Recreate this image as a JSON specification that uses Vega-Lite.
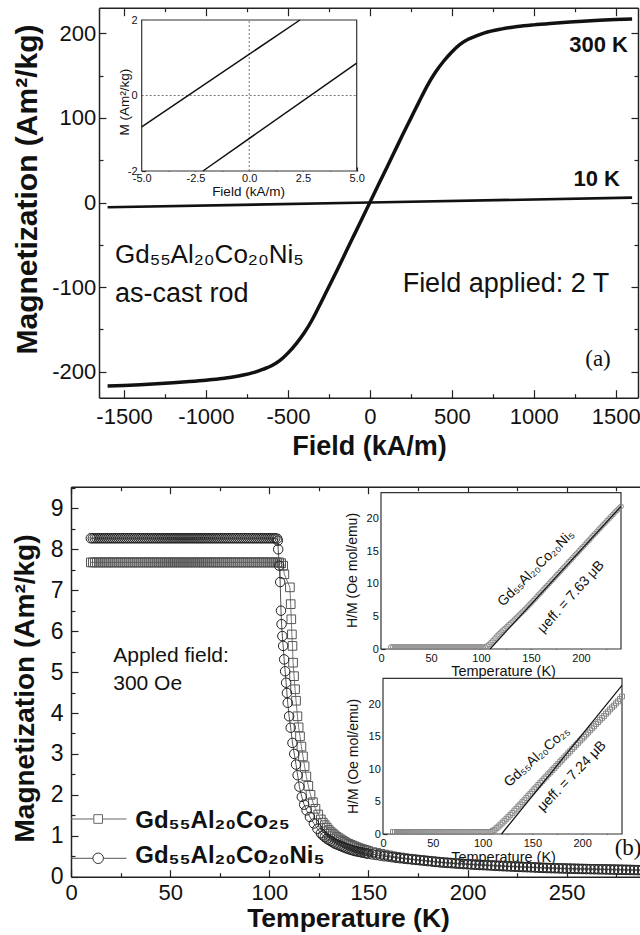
{
"$schema": "https://vega.github.io/schema/vega-lite/v6.json",
"width": 640, "height": 935, "autosize": {"type": "none"}, "padding": 0, "background": "white",
"config": {"view": {"stroke": null}, "font": "Liberation Sans",
 "axis": {"grid": false, "labelFlush": false, "labelOverlap": false, "domainColor": "#222", "tickColor": "#222", "labelColor": "#111", "titleColor": "#111", "domainWidth": 1.5, "tickWidth": 1.2, "zindex": 1, "labelFont": "Liberation Sans", "titleFont": "Liberation Sans"},
 "text": {"color": "#111"}},
"data": {"values": [{}]},
"datasets": {
"a300": [{"h":-1600,"m":-217},{"h":-1500,"m":-216.3},{"h":-1400,"m":-215.4},{"h":-1300,"m":-214.3},{"h":-1200,"m":-213},{"h":-1100,"m":-211.6},{"h":-1000,"m":-210},{"h":-900,"m":-208},{"h":-800,"m":-205},{"h":-700,"m":-200.5},{"h":-650,"m":-197},{"h":-600,"m":-193},{"h":-550,"m":-187},{"h":-500,"m":-178},{"h":-450,"m":-167},{"h":-400,"m":-154},{"h":-350,"m":-138},{"h":-300,"m":-119},{"h":-250,"m":-99.5},{"h":-200,"m":-80},{"h":-150,"m":-60},{"h":-100,"m":-40},{"h":-50,"m":-20},{"h":0,"m":0},{"h":50,"m":20},{"h":100,"m":40},{"h":150,"m":60},{"h":200,"m":80},{"h":250,"m":99.5},{"h":300,"m":119},{"h":350,"m":138},{"h":400,"m":154},{"h":450,"m":167},{"h":500,"m":178},{"h":550,"m":187},{"h":600,"m":193},{"h":650,"m":197},{"h":700,"m":200.5},{"h":800,"m":205},{"h":900,"m":208},{"h":1000,"m":210},{"h":1100,"m":211.6},{"h":1200,"m":213},{"h":1300,"m":214.3},{"h":1400,"m":215.4},{"h":1500,"m":216.3},{"h":1600,"m":217}],
"a10": [{"h":-1600,"m":-5.6},{"h":0,"m":0},{"h":1600,"m":5.8}],
"ains": [{"s":"u","h":-5,"m":-0.83},{"s":"u","h":2.36,"m":2},{"s":"l","h":-2.15,"m":-2},{"s":"l","h":5,"m":0.86}],
"bsq": [{"t":10,"m":7.68},{"t":11,"m":7.68},{"t":12,"m":7.68},{"t":13,"m":7.68},{"t":14,"m":7.68},{"t":15,"m":7.68},{"t":16,"m":7.68},{"t":17,"m":7.68},{"t":18,"m":7.68},{"t":19,"m":7.68},{"t":20,"m":7.68},{"t":21,"m":7.68},{"t":22,"m":7.68},{"t":23,"m":7.68},{"t":24,"m":7.68},{"t":25,"m":7.68},{"t":26,"m":7.68},{"t":27,"m":7.68},{"t":28,"m":7.68},{"t":29,"m":7.68},{"t":30,"m":7.68},{"t":31,"m":7.68},{"t":32,"m":7.68},{"t":33,"m":7.68},{"t":34,"m":7.68},{"t":35,"m":7.68},{"t":36,"m":7.68},{"t":37,"m":7.68},{"t":38,"m":7.68},{"t":39,"m":7.68},{"t":40,"m":7.68},{"t":41,"m":7.68},{"t":42,"m":7.68},{"t":43,"m":7.68},{"t":44,"m":7.68},{"t":45,"m":7.68},{"t":46,"m":7.68},{"t":47,"m":7.68},{"t":48,"m":7.68},{"t":49,"m":7.68},{"t":50,"m":7.68},{"t":51,"m":7.68},{"t":52,"m":7.68},{"t":53,"m":7.68},{"t":54,"m":7.68},{"t":55,"m":7.68},{"t":56,"m":7.68},{"t":57,"m":7.68},{"t":58,"m":7.68},{"t":59,"m":7.68},{"t":60,"m":7.68},{"t":61,"m":7.68},{"t":62,"m":7.68},{"t":63,"m":7.68},{"t":64,"m":7.68},{"t":65,"m":7.68},{"t":66,"m":7.68},{"t":67,"m":7.68},{"t":68,"m":7.68},{"t":69,"m":7.68},{"t":70,"m":7.68},{"t":71,"m":7.68},{"t":72,"m":7.68},{"t":73,"m":7.68},{"t":74,"m":7.68},{"t":75,"m":7.68},{"t":76,"m":7.68},{"t":77,"m":7.68},{"t":78,"m":7.68},{"t":79,"m":7.68},{"t":80,"m":7.68},{"t":81,"m":7.68},{"t":82,"m":7.68},{"t":83,"m":7.68},{"t":84,"m":7.68},{"t":85,"m":7.68},{"t":86,"m":7.68},{"t":87,"m":7.68},{"t":88,"m":7.68},{"t":89,"m":7.68},{"t":90,"m":7.68},{"t":91,"m":7.68},{"t":92,"m":7.68},{"t":93,"m":7.68},{"t":94,"m":7.68},{"t":95,"m":7.68},{"t":96,"m":7.68},{"t":97,"m":7.68},{"t":98,"m":7.68},{"t":99,"m":7.68},{"t":100,"m":7.68},{"t":101,"m":7.68},{"t":102,"m":7.68},{"t":103,"m":7.68},{"t":104,"m":7.68},{"t":105,"m":7.68},{"t":106,"m":7.66},{"t":107,"m":7.6},{"t":107.6,"m":7.39},{"t":110.4,"m":7.07},{"t":110.8,"m":6.66},{"t":111.1,"m":6.29},{"t":111.4,"m":5.92},{"t":111.7,"m":5.64},{"t":112,"m":5.23},{"t":112.5,"m":4.9},{"t":113,"m":4.58},{"t":113.5,"m":4.3},{"t":114.2,"m":3.92},{"t":114.8,"m":3.65},{"t":115.5,"m":3.43},{"t":116.2,"m":3.18},{"t":117,"m":2.94},{"t":117.8,"m":2.7},{"t":118.7,"m":2.45},{"t":119.7,"m":2.22},{"t":120.8,"m":2.0},{"t":122,"m":1.82},{"t":123.3,"m":1.66},{"t":124.7,"m":1.52},{"t":126,"m":1.4},{"t":127,"m":1.32},{"t":128,"m":1.26},{"t":129,"m":1.2},{"t":130,"m":1.14},{"t":131,"m":1.09},{"t":132,"m":1.05},{"t":133,"m":1.01},{"t":134,"m":0.97},{"t":135,"m":0.94},{"t":136,"m":0.91},{"t":137,"m":0.88},{"t":138,"m":0.85},{"t":139,"m":0.82},{"t":140,"m":0.8},{"t":141,"m":0.78},{"t":142,"m":0.76},{"t":143,"m":0.74},{"t":144,"m":0.72},{"t":145,"m":0.7},{"t":146,"m":0.685},{"t":147,"m":0.67},{"t":148,"m":0.655},{"t":149,"m":0.64},{"t":150,"m":0.625},{"t":152,"m":0.6},{"t":154,"m":0.58},{"t":156,"m":0.56},{"t":158,"m":0.54},{"t":160,"m":0.52},{"t":162,"m":0.5},{"t":164,"m":0.485},{"t":166,"m":0.47},{"t":168,"m":0.455},{"t":170,"m":0.44},{"t":172,"m":0.43},{"t":174,"m":0.42},{"t":176,"m":0.41},{"t":178,"m":0.4},{"t":180,"m":0.39},{"t":182,"m":0.38},{"t":184,"m":0.37},{"t":186,"m":0.36},{"t":188,"m":0.35},{"t":190,"m":0.345},{"t":192,"m":0.34},{"t":194,"m":0.33},{"t":196,"m":0.325},{"t":198,"m":0.32},{"t":200,"m":0.31},{"t":202,"m":0.305},{"t":204,"m":0.3},{"t":206,"m":0.295},{"t":208,"m":0.29},{"t":210,"m":0.285},{"t":212,"m":0.28},{"t":214,"m":0.275},{"t":216,"m":0.27},{"t":218,"m":0.265},{"t":220,"m":0.26},{"t":222,"m":0.256},{"t":224,"m":0.252},{"t":226,"m":0.248},{"t":228,"m":0.244},{"t":230,"m":0.24},{"t":232,"m":0.236},{"t":234,"m":0.232},{"t":236,"m":0.228},{"t":238,"m":0.224},{"t":240,"m":0.22},{"t":242,"m":0.217},{"t":244,"m":0.214},{"t":246,"m":0.211},{"t":248,"m":0.208},{"t":250,"m":0.205},{"t":252,"m":0.202},{"t":254,"m":0.2},{"t":256,"m":0.198},{"t":258,"m":0.196},{"t":260,"m":0.194},{"t":262,"m":0.192},{"t":264,"m":0.19},{"t":266,"m":0.188},{"t":268,"m":0.186},{"t":270,"m":0.184},{"t":272,"m":0.182},{"t":274,"m":0.18},{"t":276,"m":0.178},{"t":278,"m":0.176},{"t":280,"m":0.174},{"t":282,"m":0.172},{"t":284,"m":0.17},{"t":286,"m":0.168},{"t":288,"m":0.166},{"t":290,"m":0.164},{"t":292,"m":0.162}],
"bci": [{"t":10,"m":8.27},{"t":11,"m":8.27},{"t":12,"m":8.27},{"t":13,"m":8.27},{"t":14,"m":8.27},{"t":15,"m":8.27},{"t":16,"m":8.27},{"t":17,"m":8.27},{"t":18,"m":8.27},{"t":19,"m":8.27},{"t":20,"m":8.27},{"t":21,"m":8.27},{"t":22,"m":8.27},{"t":23,"m":8.27},{"t":24,"m":8.27},{"t":25,"m":8.27},{"t":26,"m":8.27},{"t":27,"m":8.27},{"t":28,"m":8.27},{"t":29,"m":8.27},{"t":30,"m":8.27},{"t":31,"m":8.27},{"t":32,"m":8.27},{"t":33,"m":8.27},{"t":34,"m":8.27},{"t":35,"m":8.27},{"t":36,"m":8.27},{"t":37,"m":8.27},{"t":38,"m":8.27},{"t":39,"m":8.27},{"t":40,"m":8.27},{"t":41,"m":8.27},{"t":42,"m":8.27},{"t":43,"m":8.27},{"t":44,"m":8.27},{"t":45,"m":8.27},{"t":46,"m":8.27},{"t":47,"m":8.27},{"t":48,"m":8.27},{"t":49,"m":8.27},{"t":50,"m":8.27},{"t":51,"m":8.27},{"t":52,"m":8.27},{"t":53,"m":8.27},{"t":54,"m":8.27},{"t":55,"m":8.27},{"t":56,"m":8.27},{"t":57,"m":8.27},{"t":58,"m":8.27},{"t":59,"m":8.27},{"t":60,"m":8.27},{"t":61,"m":8.27},{"t":62,"m":8.27},{"t":63,"m":8.27},{"t":64,"m":8.27},{"t":65,"m":8.27},{"t":66,"m":8.27},{"t":67,"m":8.27},{"t":68,"m":8.27},{"t":69,"m":8.27},{"t":70,"m":8.27},{"t":71,"m":8.27},{"t":72,"m":8.27},{"t":73,"m":8.27},{"t":74,"m":8.27},{"t":75,"m":8.27},{"t":76,"m":8.27},{"t":77,"m":8.27},{"t":78,"m":8.27},{"t":79,"m":8.27},{"t":80,"m":8.27},{"t":81,"m":8.27},{"t":82,"m":8.27},{"t":83,"m":8.27},{"t":84,"m":8.27},{"t":85,"m":8.27},{"t":86,"m":8.27},{"t":87,"m":8.27},{"t":88,"m":8.27},{"t":89,"m":8.27},{"t":90,"m":8.27},{"t":91,"m":8.27},{"t":92,"m":8.27},{"t":93,"m":8.27},{"t":94,"m":8.27},{"t":95,"m":8.27},{"t":96,"m":8.27},{"t":97,"m":8.27},{"t":98,"m":8.27},{"t":99,"m":8.27},{"t":100,"m":8.27},{"t":101,"m":8.27},{"t":102,"m":8.27},{"t":103,"m":8.27},{"t":104,"m":8.26},{"t":104.3,"m":8.21},{"t":104.5,"m":8.0},{"t":105,"m":7.6},{"t":105.5,"m":7.2},{"t":105.9,"m":6.5},{"t":106.2,"m":6.17},{"t":106.6,"m":5.88},{"t":107,"m":5.64},{"t":107.5,"m":5.31},{"t":108,"m":5.02},{"t":108.5,"m":4.74},{"t":108.9,"m":4.49},{"t":109.3,"m":4.25},{"t":110,"m":3.92},{"t":110.8,"m":3.64},{"t":111.7,"m":3.27},{"t":112.6,"m":3.0},{"t":113.5,"m":2.74},{"t":114.3,"m":2.48},{"t":115.2,"m":2.2},{"t":116.4,"m":1.95},{"t":117.6,"m":1.76},{"t":118.8,"m":1.62},{"t":120.5,"m":1.46},{"t":122.5,"m":1.3},{"t":124.3,"m":1.17},{"t":126,"m":1.06},{"t":127,"m":1.01},{"t":128,"m":0.97},{"t":129,"m":0.93},{"t":130,"m":0.9},{"t":131,"m":0.87},{"t":132,"m":0.84},{"t":133,"m":0.81},{"t":134,"m":0.79},{"t":135,"m":0.77},{"t":136,"m":0.75},{"t":137,"m":0.73},{"t":138,"m":0.71},{"t":139,"m":0.69},{"t":140,"m":0.675},{"t":141,"m":0.66},{"t":142,"m":0.645},{"t":143,"m":0.63},{"t":144,"m":0.62},{"t":145,"m":0.61},{"t":146,"m":0.6},{"t":147,"m":0.59},{"t":148,"m":0.58},{"t":149,"m":0.57},{"t":150,"m":0.56},{"t":152,"m":0.545},{"t":154,"m":0.53},{"t":156,"m":0.515},{"t":158,"m":0.5},{"t":160,"m":0.49},{"t":162,"m":0.475},{"t":164,"m":0.46},{"t":166,"m":0.45},{"t":168,"m":0.44},{"t":170,"m":0.43},{"t":172,"m":0.42},{"t":174,"m":0.41},{"t":176,"m":0.4},{"t":178,"m":0.39},{"t":180,"m":0.38},{"t":182,"m":0.37},{"t":184,"m":0.36},{"t":186,"m":0.35},{"t":188,"m":0.342},{"t":190,"m":0.335},{"t":192,"m":0.328},{"t":194,"m":0.32},{"t":196,"m":0.314},{"t":198,"m":0.308},{"t":200,"m":0.302},{"t":202,"m":0.296},{"t":204,"m":0.29},{"t":206,"m":0.285},{"t":208,"m":0.28},{"t":210,"m":0.275},{"t":212,"m":0.27},{"t":214,"m":0.265},{"t":216,"m":0.26},{"t":218,"m":0.255},{"t":220,"m":0.25},{"t":222,"m":0.246},{"t":224,"m":0.242},{"t":226,"m":0.238},{"t":228,"m":0.234},{"t":230,"m":0.23},{"t":232,"m":0.226},{"t":234,"m":0.222},{"t":236,"m":0.218},{"t":238,"m":0.214},{"t":240,"m":0.21},{"t":242,"m":0.207},{"t":244,"m":0.204},{"t":246,"m":0.201},{"t":248,"m":0.198},{"t":250,"m":0.195},{"t":252,"m":0.192},{"t":254,"m":0.19},{"t":256,"m":0.188},{"t":258,"m":0.186},{"t":260,"m":0.184},{"t":262,"m":0.182},{"t":264,"m":0.18},{"t":266,"m":0.178},{"t":268,"m":0.176},{"t":270,"m":0.174},{"t":272,"m":0.172},{"t":274,"m":0.17},{"t":276,"m":0.168},{"t":278,"m":0.166},{"t":280,"m":0.164},{"t":282,"m":0.162},{"t":284,"m":0.16},{"t":286,"m":0.158},{"t":288,"m":0.156},{"t":290,"m":0.154},{"t":292,"m":0.152}],
"cni": [{"t":10,"v":0.3},{"t":12,"v":0.3},{"t":14,"v":0.3},{"t":16,"v":0.3},{"t":18,"v":0.3},{"t":20,"v":0.3},{"t":22,"v":0.3},{"t":24,"v":0.3},{"t":26,"v":0.3},{"t":28,"v":0.3},{"t":30,"v":0.3},{"t":32,"v":0.3},{"t":34,"v":0.3},{"t":36,"v":0.3},{"t":38,"v":0.3},{"t":40,"v":0.3},{"t":42,"v":0.3},{"t":44,"v":0.3},{"t":46,"v":0.3},{"t":48,"v":0.3},{"t":50,"v":0.3},{"t":52,"v":0.3},{"t":54,"v":0.3},{"t":56,"v":0.3},{"t":58,"v":0.3},{"t":60,"v":0.3},{"t":62,"v":0.3},{"t":64,"v":0.3},{"t":66,"v":0.3},{"t":68,"v":0.3},{"t":70,"v":0.3},{"t":72,"v":0.3},{"t":74,"v":0.3},{"t":76,"v":0.3},{"t":78,"v":0.3},{"t":80,"v":0.3},{"t":82,"v":0.3},{"t":84,"v":0.3},{"t":86,"v":0.3},{"t":88,"v":0.3},{"t":90,"v":0.3},{"t":92,"v":0.3},{"t":94,"v":0.3},{"t":96,"v":0.3},{"t":98,"v":0.3},{"t":100,"v":0.3},{"t":102,"v":0.3},{"t":104,"v":0.32},{"t":106,"v":0.45},{"t":108,"v":0.7},{"t":110,"v":1.0},{"t":112,"v":1.3},{"t":114,"v":1.65},{"t":116,"v":2.0},{"t":118,"v":2.3},{"t":120,"v":2.6},{"t":122,"v":2.9},{"t":124,"v":3.15},{"t":126,"v":3.45},{"t":128,"v":3.75},{"t":130,"v":4.0},{"t":132,"v":4.3},{"t":134,"v":4.6},{"t":136,"v":4.9},{"t":138,"v":5.2},{"t":140,"v":5.5},{"t":142,"v":5.8},{"t":144,"v":6.1},{"t":146,"v":6.4},{"t":148,"v":6.75},{"t":150,"v":7.05},{"t":152,"v":7.4},{"t":154,"v":7.7},{"t":156,"v":8.05},{"t":158,"v":8.4},{"t":160,"v":8.7},{"t":162,"v":9.05},{"t":164,"v":9.4},{"t":166,"v":9.7},{"t":168,"v":10.05},{"t":170,"v":10.4},{"t":172,"v":10.7},{"t":174,"v":11.05},{"t":176,"v":11.4},{"t":178,"v":11.7},{"t":180,"v":12.05},{"t":182,"v":12.4},{"t":184,"v":12.7},{"t":186,"v":13.05},{"t":188,"v":13.4},{"t":190,"v":13.7},{"t":192,"v":14.05},{"t":194,"v":14.4},{"t":196,"v":14.7},{"t":198,"v":15.05},{"t":200,"v":15.4},{"t":202,"v":15.7},{"t":204,"v":16.05},{"t":206,"v":16.4},{"t":208,"v":16.7},{"t":210,"v":17.05},{"t":212,"v":17.4},{"t":214,"v":17.7},{"t":216,"v":18.05},{"t":218,"v":18.4},{"t":220,"v":18.7},{"t":222,"v":19.05},{"t":224,"v":19.35},{"t":226,"v":19.7},{"t":228,"v":20.0},{"t":230,"v":20.35},{"t":232,"v":20.65},{"t":234,"v":21.0},{"t":236,"v":21.3},{"t":238,"v":21.6},{"t":240,"v":21.9}],
"cco": [{"t":10,"v":0.3},{"t":12,"v":0.3},{"t":14,"v":0.3},{"t":16,"v":0.3},{"t":18,"v":0.3},{"t":20,"v":0.3},{"t":22,"v":0.3},{"t":24,"v":0.3},{"t":26,"v":0.3},{"t":28,"v":0.3},{"t":30,"v":0.3},{"t":32,"v":0.3},{"t":34,"v":0.3},{"t":36,"v":0.3},{"t":38,"v":0.3},{"t":40,"v":0.3},{"t":42,"v":0.3},{"t":44,"v":0.3},{"t":46,"v":0.3},{"t":48,"v":0.3},{"t":50,"v":0.3},{"t":52,"v":0.3},{"t":54,"v":0.3},{"t":56,"v":0.3},{"t":58,"v":0.3},{"t":60,"v":0.3},{"t":62,"v":0.3},{"t":64,"v":0.3},{"t":66,"v":0.3},{"t":68,"v":0.3},{"t":70,"v":0.3},{"t":72,"v":0.3},{"t":74,"v":0.3},{"t":76,"v":0.3},{"t":78,"v":0.3},{"t":80,"v":0.3},{"t":82,"v":0.3},{"t":84,"v":0.3},{"t":86,"v":0.3},{"t":88,"v":0.3},{"t":90,"v":0.3},{"t":92,"v":0.3},{"t":94,"v":0.3},{"t":96,"v":0.3},{"t":98,"v":0.3},{"t":100,"v":0.3},{"t":102,"v":0.3},{"t":104,"v":0.3},{"t":106,"v":0.3},{"t":108,"v":0.32},{"t":110,"v":0.45},{"t":112,"v":0.65},{"t":114,"v":0.9},{"t":116,"v":1.15},{"t":118,"v":1.45},{"t":120,"v":1.75},{"t":122,"v":2.05},{"t":124,"v":2.35},{"t":126,"v":2.65},{"t":128,"v":2.95},{"t":130,"v":3.25},{"t":132,"v":3.6},{"t":134,"v":3.9},{"t":136,"v":4.25},{"t":138,"v":4.55},{"t":140,"v":4.9},{"t":142,"v":5.2},{"t":144,"v":5.55},{"t":146,"v":5.9},{"t":148,"v":6.2},{"t":150,"v":6.55},{"t":152,"v":6.9},{"t":154,"v":7.2},{"t":156,"v":7.55},{"t":158,"v":7.9},{"t":160,"v":8.2},{"t":162,"v":8.55},{"t":164,"v":8.85},{"t":166,"v":9.2},{"t":168,"v":9.5},{"t":170,"v":9.85},{"t":172,"v":10.15},{"t":174,"v":10.5},{"t":176,"v":10.8},{"t":178,"v":11.15},{"t":180,"v":11.45},{"t":182,"v":11.8},{"t":184,"v":12.1},{"t":186,"v":12.45},{"t":188,"v":12.75},{"t":190,"v":13.1},{"t":192,"v":13.4},{"t":194,"v":13.75},{"t":196,"v":14.05},{"t":198,"v":14.4},{"t":200,"v":14.7},{"t":202,"v":15.0},{"t":204,"v":15.35},{"t":206,"v":15.65},{"t":208,"v":16.0},{"t":210,"v":16.3},{"t":212,"v":16.6},{"t":214,"v":16.95},{"t":216,"v":17.25},{"t":218,"v":17.6},{"t":220,"v":17.9},{"t":222,"v":18.2},{"t":224,"v":18.55},{"t":226,"v":18.85},{"t":228,"v":19.2},{"t":230,"v":19.5},{"t":232,"v":19.8},{"t":234,"v":20.15},{"t":236,"v":20.45},{"t":238,"v":20.8},{"t":240,"v":21.2}],
"fitn": [{"t":109,"v":0},{"t":240,"v":21.9}],
"fitc": [{"t":119,"v":0},{"t":240,"v":22.9}]
},
"layer": [
{"layer": [
 {"data": {"name": "a300"}, "mark": {"type": "line", "stroke": "#111", "strokeWidth": 3.5, "interpolate": "monotone"},
  "encoding": {
   "x": {"field": "h", "type": "quantitative", "scale": {"domain": [-1652.5, 1636], "range": [99, 638], "nice": false, "zero": false},
    "axis": {"orient": "bottom", "offset": -537.3, "values": [-1500,-1000,-500,0,500,1000,1500], "format": "d", "labelExpr": "replace(datum.label,'−','-')", "tickSize": -8, "labelPadding": 16.7, "labelFontSize": 22, "title": "Field (kA/m)", "titleFontSize": 27, "titleFontWeight": "bold", "titleX": 369, "titleY": 49, "titleBaseline": "middle", "titleAlign": "center", "titleAngle": 0}},
   "y": {"field": "m", "type": "quantitative", "scale": {"domain": [-230.7, 230.3], "range": [397.7, 7.7], "nice": false, "zero": false},
    "axis": {"orient": "left", "offset": -99, "values": [-200,-100,0,100,200], "format": "d", "labelExpr": "replace(datum.label,'−','-')", "tickSize": -7, "labelPadding": 10.3, "labelFontSize": 22, "title": "Magnetization (Am²/kg)", "titleFontSize": 30, "titleFontWeight": "bold", "titleX": -72, "titleY": 189, "titleAngle": -90, "titleBaseline": "middle", "titleAlign": "center"}}}},
 {"data": {"name": "a10"}, "mark": {"type": "line", "stroke": "#111", "strokeWidth": 2.6},
  "encoding": {
   "x": {"field": "h", "type": "quantitative", "axis": {"orient": "top", "offset": -7.7, "values": [-1500,-1000,-500,0,500,1000,1500], "tickSize": -8, "labels": false, "title": null}},
   "y": {"field": "m", "type": "quantitative", "axis": {"orient": "right", "offset": -2, "values": [-200,-100,0,100,200], "tickSize": -7, "labels": false, "title": null}}}},
 {"mark": {"type": "text", "text": "300 K", "fontSize": 22, "fontWeight": "bold", "align": "right", "baseline": "middle"},
  "encoding": {
   "x": {"datum": 1575, "type": "quantitative", "axis": {"orient": "bottom", "offset": -537.3, "values": [-1250,-750,-250,250,750,1250], "tickSize": -4, "labels": false, "domain": false, "title": null}},
   "y": {"datum": 186.3, "type": "quantitative", "axis": {"orient": "left", "offset": -99, "values": [-150,-50,50,150], "tickSize": -4, "labels": false, "domain": false, "title": null}}}},
 {"mark": {"type": "text", "text": "10 K", "fontSize": 22, "fontWeight": "bold", "align": "right", "baseline": "middle"},
  "encoding": {
   "x": {"datum": 1526, "type": "quantitative", "axis": {"orient": "top", "offset": -7.7, "values": [-1250,-750,-250,250,750,1250], "tickSize": -4, "labels": false, "domain": false, "title": null}},
   "y": {"datum": 27.9, "type": "quantitative", "axis": {"orient": "right", "offset": -2, "values": [-150,-50,50,150], "tickSize": -4, "labels": false, "domain": false, "title": null}}}},
 {"mark": {"type": "text", "text": "Gd₅₅Al₂₀Co₂₀Ni₅", "fontSize": 26, "align": "left", "baseline": "alphabetic"},
  "encoding": {"x": {"datum": -1555, "type": "quantitative", "axis": null}, "y": {"datum": -71.8, "type": "quantitative", "axis": null}}},
 {"mark": {"type": "text", "text": "as-cast rod", "fontSize": 27, "align": "left", "baseline": "alphabetic"},
  "encoding": {"x": {"datum": -1555, "type": "quantitative", "axis": null}, "y": {"datum": -117.2, "type": "quantitative", "axis": null}}},
 {"mark": {"type": "text", "text": "Field applied: 2 T", "fontSize": 27, "align": "left", "baseline": "alphabetic"},
  "encoding": {"x": {"datum": 200, "type": "quantitative", "axis": null}, "y": {"datum": -105.3, "type": "quantitative", "axis": null}}},
 {"mark": {"type": "text", "text": "(a)", "font": "Liberation Serif", "fontSize": 23, "align": "center", "baseline": "middle"},
  "encoding": {"x": {"datum": 1392, "type": "quantitative", "axis": null}, "y": {"datum": -184.9, "type": "quantitative", "axis": null}}}
 ],
 "resolve": {"axis": {"x": "independent", "y": "independent"}}},
{"layer": [
 {"mark": {"type": "rect", "fill": "white", "stroke": "#333", "strokeWidth": 1.2},
  "encoding": {
   "x": {"datum": -5, "type": "quantitative", "scale": {"domain": [-5, 5], "range": [141.7, 356.7], "nice": false, "zero": false},
    "axis": {"orient": "bottom", "offset": -764, "values": [-5,-2.5,0,2.5,5], "format": ".1f", "labelExpr": "replace(datum.label,'−','-')", "tickSize": -4, "labelPadding": 5, "labelFontSize": 11, "domain": false, "title": "Field (kA/m)", "titleFontSize": 13.5, "titleFontWeight": "normal", "titleX": 248, "titleY": 20.7, "titleBaseline": "middle", "titleAlign": "center", "titleAngle": 0}},
   "x2": {"datum": 5},
   "y": {"datum": -2, "type": "quantitative", "scale": {"domain": [-2, 2], "range": [171, 20], "nice": false, "zero": false},
    "axis": {"orient": "left", "offset": -141.7, "values": [-2,0,2], "format": "d", "labelExpr": "replace(datum.label,'−','-')", "tickSize": -4, "labelPadding": 8.7, "labelFontSize": 11, "domain": false, "title": "M (Am²/kg)", "titleFontSize": 13.5, "titleFontWeight": "normal", "titleX": -17.7, "titleY": 101.7, "titleAngle": -90, "titleBaseline": "middle", "titleAlign": "center"}},
   "y2": {"datum": 2}}},
 {"mark": {"type": "rule", "stroke": "#555", "strokeWidth": 0.8, "strokeDash": [2, 2]},
  "encoding": {
   "x": {"datum": 0, "type": "quantitative", "axis": {"orient": "bottom", "offset": -764, "values": [-3.75,-1.25,1.25,3.75], "tickSize": -2.5, "labels": false, "domain": false, "title": null}},
   "y": {"datum": -2, "type": "quantitative", "axis": {"orient": "left", "offset": -141.7, "values": [-1,1], "tickSize": -2.5, "labels": false, "domain": false, "title": null}},
   "y2": {"datum": 2}}},
 {"mark": {"type": "rule", "stroke": "#555", "strokeWidth": 0.8, "strokeDash": [2, 2]},
  "encoding": {"x": {"datum": -5, "type": "quantitative", "axis": null}, "x2": {"datum": 5}, "y": {"datum": 0, "type": "quantitative", "axis": null}}},
 {"data": {"name": "ains"}, "mark": {"type": "line", "stroke": "#111", "strokeWidth": 1.5},
  "encoding": {"x": {"field": "h", "type": "quantitative", "axis": null}, "y": {"field": "m", "type": "quantitative", "axis": null}, "detail": {"field": "s"}}}
 ],
 "resolve": {"axis": {"x": "independent", "y": "independent"}}},
{"layer": [
 {"data": {"name": "bsq"}, "mark": {"type": "line", "stroke": "#777", "strokeWidth": 1},
  "encoding": {
   "x": {"field": "t", "type": "quantitative", "scale": {"domain": [0, 290], "range": [71, 646], "nice": false, "zero": false},
    "axis": {"orient": "bottom", "offset": -58.3, "values": [0,50,100,150,200,250], "format": "d", "tickSize": -7, "labelPadding": 12.5, "labelFontSize": 22, "title": "Temperature (K)", "titleFontSize": 26.5, "titleFontWeight": "bold", "titleX": 348, "titleY": 42, "titleBaseline": "middle", "titleAlign": "center", "titleAngle": 0}},
   "y": {"field": "m", "type": "quantitative", "scale": {"domain": [0, 9.53], "range": [876.7, 486.7], "nice": false, "zero": false},
    "axis": {"orient": "left", "offset": -71, "values": [0,1,2,3,4,5,6,7,8,9], "format": "d", "tickSize": -7, "labelPadding": 15, "labelFontSize": 23, "title": "Magnetization (Am²/kg)", "titleFontSize": 28, "titleFontWeight": "bold", "titleX": -46, "titleY": 688, "titleAngle": -90, "titleBaseline": "middle", "titleAlign": "center"}}}},
 {"data": {"name": "bci"}, "mark": {"type": "line", "stroke": "#555", "strokeWidth": 1},
  "encoding": {
   "x": {"field": "t", "type": "quantitative", "axis": {"orient": "bottom", "offset": -58.3, "values": [25,75,125,175,225,275], "tickSize": -4, "labels": false, "domain": false, "title": null}},
   "y": {"field": "m", "type": "quantitative", "axis": {"orient": "left", "offset": -71, "values": [0.5,1.5,2.5,3.5,4.5,5.5,6.5,7.5,8.5,9.5], "tickSize": -4, "labels": false, "domain": false, "title": null}}}},
 {"data": {"name": "bsq"}, "mark": {"type": "point", "shape": "square", "size": 75, "filled": false, "stroke": "#555", "strokeWidth": 1, "opacity": 1},
  "encoding": {
   "x": {"field": "t", "type": "quantitative", "axis": {"orient": "top", "offset": -486.7, "values": [0,50,100,150,200,250], "tickSize": -7, "labels": false, "title": null}},
   "y": {"field": "m", "type": "quantitative", "axis": null}}},
 {"data": {"name": "bci"}, "mark": {"type": "point", "shape": "circle", "size": 90, "filled": false, "stroke": "#222", "strokeWidth": 1, "opacity": 1},
  "encoding": {
   "x": {"field": "t", "type": "quantitative", "axis": {"orient": "top", "offset": -486.7, "values": [25,75,125,175,225,275], "tickSize": -4, "labels": false, "domain": false, "title": null}},
   "y": {"field": "m", "type": "quantitative", "axis": null}}},
 {"mark": {"type": "rule", "stroke": "#666", "strokeWidth": 1},
  "encoding": {"x": {"datum": 0, "type": "quantitative", "axis": null}, "x2": {"datum": 28}, "y": {"datum": 1.41, "type": "quantitative", "axis": null}}},
 {"mark": {"type": "rule", "stroke": "#555", "strokeWidth": 1},
  "encoding": {"x": {"datum": 0, "type": "quantitative", "axis": null}, "x2": {"datum": 28}, "y": {"datum": 0.45, "type": "quantitative", "axis": null}}},
 {"mark": {"type": "point", "shape": "square", "size": 75, "fill": "white", "stroke": "#666", "strokeWidth": 1, "opacity": 1},
  "encoding": {"x": {"datum": 13.7, "type": "quantitative", "axis": null}, "y": {"datum": 1.41, "type": "quantitative", "axis": null}}},
 {"mark": {"type": "point", "shape": "circle", "size": 110, "fill": "white", "stroke": "#333", "strokeWidth": 1, "opacity": 1},
  "encoding": {"x": {"datum": 13.7, "type": "quantitative", "axis": null}, "y": {"datum": 0.45, "type": "quantitative", "axis": null}}},
 {"mark": {"type": "text", "text": "Gd₅₅Al₂₀Co₂₅", "fontSize": 24, "fontWeight": "bold", "align": "left", "baseline": "alphabetic"},
  "encoding": {"x": {"datum": 32.4, "type": "quantitative", "axis": null}, "y": {"datum": 1.18, "type": "quantitative", "axis": null}}},
 {"mark": {"type": "text", "text": "Gd₅₅Al₂₀Co₂₀Ni₅", "fontSize": 24, "fontWeight": "bold", "align": "left", "baseline": "alphabetic"},
  "encoding": {"x": {"datum": 32.4, "type": "quantitative", "axis": null}, "y": {"datum": 0.33, "type": "quantitative", "axis": null}}},
 {"mark": {"type": "text", "text": ["Appled field:", "300 Oe"], "fontSize": 21, "align": "left", "baseline": "alphabetic", "lineHeight": 28},
  "encoding": {"x": {"datum": 21.3, "type": "quantitative", "axis": null}, "y": {"datum": 5.25, "type": "quantitative", "axis": null}}}
 ],
 "resolve": {"axis": {"x": "independent", "y": "independent"}}},
{"layer": [
 {"mark": {"type": "rect", "fill": "white", "stroke": "#333", "strokeWidth": 1.2},
  "encoding": {
   "x": {"datum": 0, "type": "quantitative", "scale": {"domain": [0, 240], "range": [381, 621], "nice": false, "zero": false},
    "axis": {"orient": "bottom", "offset": -286, "values": [0,50,100,150,200], "format": "d", "tickSize": -4, "labelPadding": 7, "labelFontSize": 11, "domain": false, "title": "Temperature (K)", "titleFontSize": 14.5, "titleFontWeight": "normal", "titleX": 503, "titleY": 22.5, "titleBaseline": "middle", "titleAlign": "center", "titleAngle": 0}},
   "x2": {"datum": 240},
   "y": {"datum": 0, "type": "quantitative", "scale": {"domain": [0, 24], "range": [649, 492.7], "nice": false, "zero": false},
    "axis": {"orient": "left", "offset": -381, "values": [0,5,10,15,20], "format": "d", "tickSize": -4, "labelPadding": 6.7, "labelFontSize": 11, "domain": false, "title": "H/M (Oe mol/emu)", "titleFontSize": 14, "titleFontWeight": "normal", "titleX": -28.5, "titleY": 570, "titleAngle": -90, "titleBaseline": "middle", "titleAlign": "center"}},
   "y2": {"datum": 24}}},
 {"data": {"name": "cni"}, "mark": {"type": "point", "shape": "circle", "size": 24, "filled": false, "stroke": "#888", "strokeWidth": 1, "opacity": 1},
  "encoding": {
   "x": {"field": "t", "type": "quantitative", "axis": {"orient": "bottom", "offset": -286, "values": [25,75,125,175,225], "tickSize": -2.5, "labels": false, "domain": false, "title": null}},
   "y": {"field": "v", "type": "quantitative", "axis": {"orient": "left", "offset": -381, "values": [2.5,7.5,12.5,17.5,22.5], "tickSize": -2.5, "labels": false, "domain": false, "title": null}}}},
 {"data": {"name": "fitn"}, "mark": {"type": "line", "stroke": "#111", "strokeWidth": 1.2},
  "encoding": {"x": {"field": "t", "type": "quantitative", "axis": null}, "y": {"field": "v", "type": "quantitative", "axis": null}}},
 {"mark": {"type": "text", "text": "Gd₅₅Al₂₀Co₂₀Ni₅", "fontSize": 14, "angle": -45, "align": "center", "baseline": "middle"},
  "encoding": {"x": {"datum": 155, "type": "quantitative", "axis": null}, "y": {"datum": 12.4, "type": "quantitative", "axis": null}}},
 {"mark": {"type": "text", "text": "μeff. = 7.63 μB", "fontSize": 14, "angle": -48, "align": "center", "baseline": "middle"},
  "encoding": {"x": {"datum": 190, "type": "quantitative", "axis": null}, "y": {"datum": 8.0, "type": "quantitative", "axis": null}}}
 ],
 "resolve": {"axis": {"x": "independent", "y": "independent"}}},
{"layer": [
 {"mark": {"type": "rect", "fill": "white", "stroke": "#333", "strokeWidth": 1.2},
  "encoding": {
   "x": {"datum": 0, "type": "quantitative", "scale": {"domain": [0, 240], "range": [383, 622], "nice": false, "zero": false},
    "axis": {"orient": "bottom", "offset": -101, "values": [0,50,100,150,200], "format": "d", "tickSize": -4, "labelPadding": 7, "labelFontSize": 11, "domain": false, "title": "Temperature (K)", "titleFontSize": 14.5, "titleFontWeight": "normal", "titleX": 503, "titleY": 23, "titleBaseline": "middle", "titleAlign": "center", "titleAngle": 0}},
   "x2": {"datum": 240},
   "y": {"datum": 0, "type": "quantitative", "scale": {"domain": [0, 24], "range": [834, 678.3], "nice": false, "zero": false},
    "axis": {"orient": "left", "offset": -383, "values": [0,5,10,15,20], "format": "d", "tickSize": -4, "labelPadding": 6.7, "labelFontSize": 11, "domain": false, "title": "H/M (Oe mol/emu)", "titleFontSize": 14, "titleFontWeight": "normal", "titleX": -30, "titleY": 756, "titleAngle": -90, "titleBaseline": "middle", "titleAlign": "center"}},
   "y2": {"datum": 24}}},
 {"data": {"name": "cco"}, "mark": {"type": "point", "shape": "square", "size": 24, "filled": false, "stroke": "#888", "strokeWidth": 1, "opacity": 1},
  "encoding": {
   "x": {"field": "t", "type": "quantitative", "axis": {"orient": "bottom", "offset": -101, "values": [25,75,125,175,225], "tickSize": -2.5, "labels": false, "domain": false, "title": null}},
   "y": {"field": "v", "type": "quantitative", "axis": {"orient": "left", "offset": -383, "values": [2.5,7.5,12.5,17.5,22.5], "tickSize": -2.5, "labels": false, "domain": false, "title": null}}}},
 {"data": {"name": "fitc"}, "mark": {"type": "line", "stroke": "#111", "strokeWidth": 1.2},
  "encoding": {"x": {"field": "t", "type": "quantitative", "axis": null}, "y": {"field": "v", "type": "quantitative", "axis": null}}},
 {"mark": {"type": "text", "text": "Gd₅₅Al₂₀Co₂₅", "fontSize": 14, "angle": -42, "align": "center", "baseline": "middle"},
  "encoding": {"x": {"datum": 154.6, "type": "quantitative", "axis": null}, "y": {"datum": 11.9, "type": "quantitative", "axis": null}}},
 {"mark": {"type": "text", "text": "μeff. = 7.24 μB", "fontSize": 14, "angle": -46, "align": "center", "baseline": "middle"},
  "encoding": {"x": {"datum": 189.8, "type": "quantitative", "axis": null}, "y": {"datum": 8.9, "type": "quantitative", "axis": null}}},
 {"mark": {"type": "text", "text": "(b)", "font": "Liberation Serif", "fontSize": 23, "align": "left", "baseline": "middle"},
  "encoding": {"x": {"datum": 232.6, "type": "quantitative", "axis": null}, "y": {"datum": -2.2, "type": "quantitative", "axis": null}}}
 ],
 "resolve": {"axis": {"x": "independent", "y": "independent"}}}
],
"resolve": {"scale": {"x": "independent", "y": "independent"}}
}
